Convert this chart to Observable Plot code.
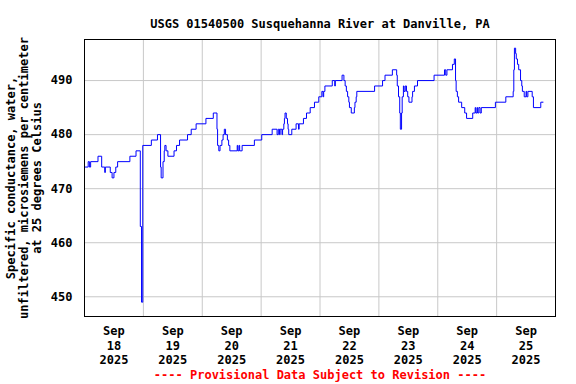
<!DOCTYPE html>
<html>
<head>
<meta charset="utf-8">
<script src="https://cdn.jsdelivr.net/npm/d3@7"></script>
<script src="https://cdn.jsdelivr.net/npm/@observablehq/plot@0.6"></script>
<style>
  html, body { margin: 0; padding: 0; background: #fff; }
</style>
</head>
<body>
<div id="chart"></div>
<script>
// Specific conductance readings (change points of the stepped record), Sep 18-25 2025
const times = [
  "2025-09-18T00:00","2025-09-18T01:30","2025-09-18T02:00","2025-09-18T02:30","2025-09-18T05:30",
  "2025-09-18T07:00","2025-09-18T08:15","2025-09-18T08:30","2025-09-18T10:30","2025-09-18T11:15",
  "2025-09-18T12:00","2025-09-18T12:45","2025-09-18T13:30","2025-09-18T18:30","2025-09-18T21:00",
  "2025-09-18T22:45","2025-09-18T23:15","2025-09-18T23:45",
  "2025-09-19T03:15","2025-09-19T05:45","2025-09-19T07:00","2025-09-19T07:15","2025-09-19T08:00",
  "2025-09-19T08:30","2025-09-19T08:45","2025-09-19T09:15","2025-09-19T10:00","2025-09-19T12:30",
  "2025-09-19T13:30","2025-09-19T14:45","2025-09-19T18:00","2025-09-19T19:30","2025-09-19T21:30",
  "2025-09-20T01:30","2025-09-20T04:30","2025-09-20T06:00","2025-09-20T06:15","2025-09-20T06:45",
  "2025-09-20T07:15","2025-09-20T08:00","2025-09-20T08:30","2025-09-20T09:00","2025-09-20T09:30",
  "2025-09-20T10:15","2025-09-20T10:45","2025-09-20T11:15","2025-09-20T14:15","2025-09-20T14:30",
  "2025-09-20T15:00","2025-09-20T15:15","2025-09-20T16:15","2025-09-20T21:15",
  "2025-09-21T00:15","2025-09-21T04:30","2025-09-21T06:30","2025-09-21T07:00","2025-09-21T07:30",
  "2025-09-21T07:45","2025-09-21T08:30","2025-09-21T08:45","2025-09-21T09:15","2025-09-21T09:30",
  "2025-09-21T09:45","2025-09-21T10:15","2025-09-21T10:45","2025-09-21T11:00","2025-09-21T11:15",
  "2025-09-21T12:30","2025-09-21T14:15","2025-09-21T15:15","2025-09-21T15:30","2025-09-21T17:15",
  "2025-09-21T18:30","2025-09-21T20:00","2025-09-21T21:45","2025-09-21T23:30",
  "2025-09-22T00:45","2025-09-22T01:15","2025-09-22T01:30","2025-09-22T02:00","2025-09-22T05:00",
  "2025-09-22T06:00","2025-09-22T06:15","2025-09-22T09:00","2025-09-22T09:45","2025-09-22T10:15",
  "2025-09-22T10:45","2025-09-22T11:15","2025-09-22T11:45","2025-09-22T12:00","2025-09-22T12:45",
  "2025-09-22T14:00","2025-09-22T14:15","2025-09-22T14:45","2025-09-22T15:00","2025-09-22T22:15",
  "2025-09-23T01:30","2025-09-23T02:30","2025-09-23T05:30","2025-09-23T07:15","2025-09-23T07:30",
  "2025-09-23T08:00","2025-09-23T08:30","2025-09-23T08:45","2025-09-23T09:15","2025-09-23T09:30",
  "2025-09-23T10:00","2025-09-23T10:15","2025-09-23T10:45","2025-09-23T11:15","2025-09-23T11:45",
  "2025-09-23T12:15","2025-09-23T13:30","2025-09-23T13:45","2025-09-23T14:30","2025-09-23T15:45",
  "2025-09-23T22:30",
  "2025-09-24T02:45","2025-09-24T03:15","2025-09-24T03:45","2025-09-24T06:00","2025-09-24T06:45",
  "2025-09-24T07:15","2025-09-24T07:30","2025-09-24T08:00","2025-09-24T08:30","2025-09-24T09:45",
  "2025-09-24T11:00","2025-09-24T11:45","2025-09-24T14:15","2025-09-24T15:15","2025-09-24T15:30",
  "2025-09-24T16:00","2025-09-24T16:15","2025-09-24T16:45","2025-09-24T17:15","2025-09-24T17:45",
  "2025-09-24T23:30",
  "2025-09-25T03:45","2025-09-25T06:45","2025-09-25T07:00","2025-09-25T07:15","2025-09-25T07:45",
  "2025-09-25T08:00","2025-09-25T08:30","2025-09-25T09:00","2025-09-25T09:45","2025-09-25T10:15",
  "2025-09-25T10:30","2025-09-25T11:15","2025-09-25T12:00","2025-09-25T12:15","2025-09-25T12:45",
  "2025-09-25T14:30","2025-09-25T15:00","2025-09-25T18:00","2025-09-25T19:00"
];
const values = [
  474,475,474,475,476,
  474,473,474,473,472,
  473,474,475,476,477,
  463,449,478,
  479,480,474,472,475,
  477,478,477,476,477,
  478,479,480,481,482,
  483,484,481,478,477,
  478,479,480,481,480,
  479,478,477,478,477,
  478,477,478,479,
  480,481,480,481,480,
  481,480,481,482,483,
  484,483,482,481,480,
  481,482,481,482,483,
  484,485,486,487,
  488,487,488,489,490,
  489,490,491,490,489,
  488,487,486,485,484,
  485,486,487,488,489,
  490,491,492,491,489,
  487,484,481,484,487,
  489,488,489,488,487,
  486,487,488,489,490,
  491,
  492,491,492,493,494,
  490,488,487,486,485,
  484,483,484,485,484,
  485,484,485,484,485,
  486,
  487,488,492,496,495,
  494,493,492,490,489,
  488,487,488,487,488,
  487,485,486,486
];

// Axis ticks
const xDomain = ["2025-09-18T00:00", "2025-09-26T00:00"];
const gridDays = ["2025-09-19","2025-09-20","2025-09-21","2025-09-22","2025-09-23","2025-09-24","2025-09-25"];
const labelDays = ["2025-09-18","2025-09-19","2025-09-20","2025-09-21","2025-09-22","2025-09-23","2025-09-24","2025-09-25"];
const yTicks = [450, 460, 470, 480, 490];
const yDomain = [446.35, 497.6];

const titleText = "USGS 01540500 Susquehanna River at Danville, PA";
const yLabel = "Specific conductance, water,\nunfiltered, microsiemens per centimeter\nat 25 degrees Celsius";
const footerText = "---- Provisional Data Subject to Revision ----";

const parse = s => new Date(s.length === 10 ? s + "T00:00Z" : s + "Z");
const data = times.map((t, i) => ({date: parse(t), value: values[i]}));
const gridDates = gridDays.map(parse);
const labelDates = labelDays.map(d => new Date(d + "T12:00Z"));
const mon = d3.utcFormat("%b"), day = d3.utcFormat("%-d"), yr = d3.utcFormat("%Y");

const font = "'DejaVu Sans Mono', 'Liberation Mono', monospace";

const chart = Plot.plot({
  width: 576,
  height: 384,
  marginTop: 39,
  marginBottom: 68,
  marginLeft: 84,
  marginRight: 21,
  style: {fontFamily: font, fontWeight: "bold", fontSize: "12px", background: "#fff", color: "#000", overflow: "visible"},
  x: {type: "utc", domain: xDomain.map(parse)},
  y: {domain: yDomain},
  marks: [
    Plot.gridX(gridDates, {stroke: "#c8c8c8", strokeOpacity: 1, strokeWidth: 1}),
    Plot.gridY(yTicks, {stroke: "#c8c8c8", strokeOpacity: 1, strokeWidth: 1}),
    Plot.line(data, {x: "date", y: "value", curve: "step-after", stroke: "#0000ff", strokeWidth: 1}),
    Plot.frame({stroke: "#000", strokeWidth: 1}),
    Plot.axisY(yTicks, {tickSize: 0, tickPadding: 12, label: null, fontSize: 12, fontWeight: "bold"}),
    Plot.axisX(labelDates, {tickSize: 0, tickPadding: 9, label: null, fontSize: 12, lineHeight: 1.17,
      tickFormat: d => `${mon(d)}\n${day(d)}\n${yr(d)}`}),
    Plot.text([titleText], {frameAnchor: "top", dy: -20, text: d => d, fontSize: 12, fontWeight: "bold", fill: "#000"}),
    Plot.text([yLabel], {frameAnchor: "left", dx: -61, rotate: -90, textAnchor: "middle", lineAnchor: "middle",
      text: d => d, fontSize: 12, lineHeight: 1.1, fontWeight: "bold", fill: "#000"}),
    Plot.text([footerText], {frameAnchor: "bottom", dy: 62, text: d => d, fontSize: 12, fontWeight: "bold", fill: "#ff0000"})
  ]
});
document.getElementById("chart").appendChild(chart);
</script>
</body>
</html>
